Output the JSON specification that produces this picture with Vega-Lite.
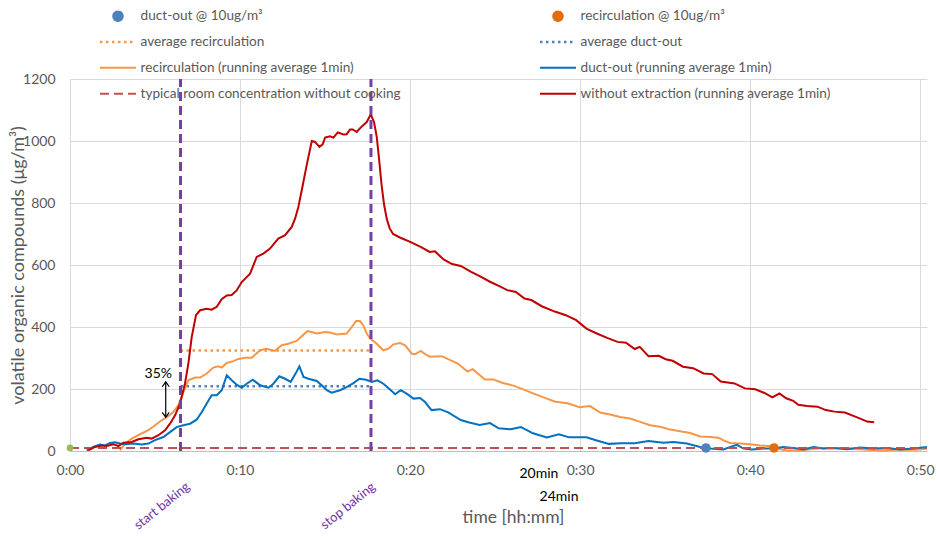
{
  "$schema": "https://vega.github.io/schema/vega-lite/v6.json",
  "width": 857,
  "height": 372,
  "autosize": {"type": "none"},
  "padding": {"left": 70, "top": 79, "right": 10, "bottom": 85},
  "background": "white",
  "config": {"view": {"stroke": null}, "font": "Lato"},
  "datasets": {
    "curves": [
      {"series": "without extraction (running average 1min)", "t": 1.08, "v": 2},
      {"series": "without extraction (running average 1min)", "t": 1.47, "v": 13},
      {"series": "without extraction (running average 1min)", "t": 1.86, "v": 18},
      {"series": "without extraction (running average 1min)", "t": 2.16, "v": 16},
      {"series": "without extraction (running average 1min)", "t": 2.55, "v": 22},
      {"series": "without extraction (running average 1min)", "t": 2.84, "v": 16},
      {"series": "without extraction (running average 1min)", "t": 3.14, "v": 27},
      {"series": "without extraction (running average 1min)", "t": 3.63, "v": 29},
      {"series": "without extraction (running average 1min)", "t": 4.02, "v": 38},
      {"series": "without extraction (running average 1min)", "t": 4.51, "v": 43},
      {"series": "without extraction (running average 1min)", "t": 4.8, "v": 40},
      {"series": "without extraction (running average 1min)", "t": 5.2, "v": 51},
      {"series": "without extraction (running average 1min)", "t": 5.59, "v": 67},
      {"series": "without extraction (running average 1min)", "t": 5.88, "v": 88},
      {"series": "without extraction (running average 1min)", "t": 6.18, "v": 115},
      {"series": "without extraction (running average 1min)", "t": 6.47, "v": 153},
      {"series": "without extraction (running average 1min)", "t": 6.76, "v": 217},
      {"series": "without extraction (running average 1min)", "t": 6.96, "v": 282},
      {"series": "without extraction (running average 1min)", "t": 7.16, "v": 368},
      {"series": "without extraction (running average 1min)", "t": 7.41, "v": 438},
      {"series": "without extraction (running average 1min)", "t": 7.65, "v": 454},
      {"series": "without extraction (running average 1min)", "t": 8.04, "v": 459},
      {"series": "without extraction (running average 1min)", "t": 8.33, "v": 456},
      {"series": "without extraction (running average 1min)", "t": 8.63, "v": 465},
      {"series": "without extraction (running average 1min)", "t": 8.92, "v": 490},
      {"series": "without extraction (running average 1min)", "t": 9.22, "v": 502},
      {"series": "without extraction (running average 1min)", "t": 9.51, "v": 503},
      {"series": "without extraction (running average 1min)", "t": 9.8, "v": 518},
      {"series": "without extraction (running average 1min)", "t": 10.1, "v": 545},
      {"series": "without extraction (running average 1min)", "t": 10.59, "v": 572},
      {"series": "without extraction (running average 1min)", "t": 10.98, "v": 626},
      {"series": "without extraction (running average 1min)", "t": 11.37, "v": 637},
      {"series": "without extraction (running average 1min)", "t": 11.76, "v": 653},
      {"series": "without extraction (running average 1min)", "t": 12.25, "v": 685},
      {"series": "without extraction (running average 1min)", "t": 12.65, "v": 696},
      {"series": "without extraction (running average 1min)", "t": 13.04, "v": 723},
      {"series": "without extraction (running average 1min)", "t": 13.24, "v": 750},
      {"series": "without extraction (running average 1min)", "t": 13.43, "v": 787},
      {"series": "without extraction (running average 1min)", "t": 13.63, "v": 841},
      {"series": "without extraction (running average 1min)", "t": 13.92, "v": 922},
      {"series": "without extraction (running average 1min)", "t": 14.22, "v": 1000},
      {"series": "without extraction (running average 1min)", "t": 14.41, "v": 997},
      {"series": "without extraction (running average 1min)", "t": 14.67, "v": 981},
      {"series": "without extraction (running average 1min)", "t": 14.86, "v": 989},
      {"series": "without extraction (running average 1min)", "t": 15.0, "v": 1011},
      {"series": "without extraction (running average 1min)", "t": 15.29, "v": 1015},
      {"series": "without extraction (running average 1min)", "t": 15.49, "v": 1011},
      {"series": "without extraction (running average 1min)", "t": 15.75, "v": 1028},
      {"series": "without extraction (running average 1min)", "t": 16.08, "v": 1021},
      {"series": "without extraction (running average 1min)", "t": 16.27, "v": 1022},
      {"series": "without extraction (running average 1min)", "t": 16.47, "v": 1037},
      {"series": "without extraction (running average 1min)", "t": 16.63, "v": 1037},
      {"series": "without extraction (running average 1min)", "t": 16.86, "v": 1029},
      {"series": "without extraction (running average 1min)", "t": 17.16, "v": 1047},
      {"series": "without extraction (running average 1min)", "t": 17.45, "v": 1061},
      {"series": "without extraction (running average 1min)", "t": 17.69, "v": 1086},
      {"series": "without extraction (running average 1min)", "t": 17.88, "v": 1061},
      {"series": "without extraction (running average 1min)", "t": 18.04, "v": 1013},
      {"series": "without extraction (running average 1min)", "t": 18.18, "v": 940},
      {"series": "without extraction (running average 1min)", "t": 18.32, "v": 860},
      {"series": "without extraction (running average 1min)", "t": 18.47, "v": 795},
      {"series": "without extraction (running average 1min)", "t": 18.63, "v": 748},
      {"series": "without extraction (running average 1min)", "t": 18.8, "v": 718},
      {"series": "without extraction (running average 1min)", "t": 19.0, "v": 700},
      {"series": "without extraction (running average 1min)", "t": 19.43, "v": 688},
      {"series": "without extraction (running average 1min)", "t": 20.04, "v": 674},
      {"series": "without extraction (running average 1min)", "t": 20.65, "v": 658},
      {"series": "without extraction (running average 1min)", "t": 21.15, "v": 642},
      {"series": "without extraction (running average 1min)", "t": 21.46, "v": 644},
      {"series": "without extraction (running average 1min)", "t": 21.97, "v": 618},
      {"series": "without extraction (running average 1min)", "t": 22.47, "v": 603},
      {"series": "without extraction (running average 1min)", "t": 22.98, "v": 597},
      {"series": "without extraction (running average 1min)", "t": 23.59, "v": 578},
      {"series": "without extraction (running average 1min)", "t": 24.09, "v": 564},
      {"series": "without extraction (running average 1min)", "t": 24.7, "v": 546},
      {"series": "without extraction (running average 1min)", "t": 25.31, "v": 530},
      {"series": "without extraction (running average 1min)", "t": 25.71, "v": 519},
      {"series": "without extraction (running average 1min)", "t": 26.22, "v": 513},
      {"series": "without extraction (running average 1min)", "t": 26.73, "v": 492},
      {"series": "without extraction (running average 1min)", "t": 27.13, "v": 487},
      {"series": "without extraction (running average 1min)", "t": 27.74, "v": 467},
      {"series": "without extraction (running average 1min)", "t": 28.55, "v": 449},
      {"series": "without extraction (running average 1min)", "t": 29.16, "v": 438},
      {"series": "without extraction (running average 1min)", "t": 29.77, "v": 422},
      {"series": "without extraction (running average 1min)", "t": 30.37, "v": 395},
      {"series": "without extraction (running average 1min)", "t": 30.98, "v": 379},
      {"series": "without extraction (running average 1min)", "t": 31.59, "v": 365},
      {"series": "without extraction (running average 1min)", "t": 32.2, "v": 352},
      {"series": "without extraction (running average 1min)", "t": 32.7, "v": 349},
      {"series": "without extraction (running average 1min)", "t": 33.21, "v": 329},
      {"series": "without extraction (running average 1min)", "t": 33.51, "v": 336},
      {"series": "without extraction (running average 1min)", "t": 34.02, "v": 306},
      {"series": "without extraction (running average 1min)", "t": 34.63, "v": 307},
      {"series": "without extraction (running average 1min)", "t": 35.03, "v": 296},
      {"series": "without extraction (running average 1min)", "t": 35.44, "v": 291},
      {"series": "without extraction (running average 1min)", "t": 36.05, "v": 272},
      {"series": "without extraction (running average 1min)", "t": 36.65, "v": 267},
      {"series": "without extraction (running average 1min)", "t": 37.26, "v": 250},
      {"series": "without extraction (running average 1min)", "t": 37.77, "v": 248},
      {"series": "without extraction (running average 1min)", "t": 38.27, "v": 224},
      {"series": "without extraction (running average 1min)", "t": 39.08, "v": 218},
      {"series": "without extraction (running average 1min)", "t": 39.69, "v": 202},
      {"series": "without extraction (running average 1min)", "t": 40.3, "v": 199},
      {"series": "without extraction (running average 1min)", "t": 40.81, "v": 188},
      {"series": "without extraction (running average 1min)", "t": 41.31, "v": 173},
      {"series": "without extraction (running average 1min)", "t": 41.72, "v": 186},
      {"series": "without extraction (running average 1min)", "t": 42.12, "v": 170},
      {"series": "without extraction (running average 1min)", "t": 42.53, "v": 162},
      {"series": "without extraction (running average 1min)", "t": 42.83, "v": 149},
      {"series": "without extraction (running average 1min)", "t": 43.34, "v": 145},
      {"series": "without extraction (running average 1min)", "t": 43.95, "v": 143},
      {"series": "without extraction (running average 1min)", "t": 44.45, "v": 132},
      {"series": "without extraction (running average 1min)", "t": 44.96, "v": 127},
      {"series": "without extraction (running average 1min)", "t": 45.57, "v": 124},
      {"series": "without extraction (running average 1min)", "t": 46.18, "v": 111},
      {"series": "without extraction (running average 1min)", "t": 46.58, "v": 102},
      {"series": "without extraction (running average 1min)", "t": 46.88, "v": 95},
      {"series": "without extraction (running average 1min)", "t": 47.29, "v": 93},

      {"series": "recirculation (running average 1min)", "t": 2.94, "v": 2},
      {"series": "recirculation (running average 1min)", "t": 3.24, "v": 24},
      {"series": "recirculation (running average 1min)", "t": 3.63, "v": 40},
      {"series": "recirculation (running average 1min)", "t": 4.12, "v": 54},
      {"series": "recirculation (running average 1min)", "t": 4.61, "v": 67},
      {"series": "recirculation (running average 1min)", "t": 5.0, "v": 83},
      {"series": "recirculation (running average 1min)", "t": 5.39, "v": 99},
      {"series": "recirculation (running average 1min)", "t": 5.78, "v": 112},
      {"series": "recirculation (running average 1min)", "t": 6.08, "v": 126},
      {"series": "recirculation (running average 1min)", "t": 6.37, "v": 147},
      {"series": "recirculation (running average 1min)", "t": 6.67, "v": 190},
      {"series": "recirculation (running average 1min)", "t": 6.96, "v": 228},
      {"series": "recirculation (running average 1min)", "t": 7.35, "v": 237},
      {"series": "recirculation (running average 1min)", "t": 7.65, "v": 237},
      {"series": "recirculation (running average 1min)", "t": 8.04, "v": 250},
      {"series": "recirculation (running average 1min)", "t": 8.43, "v": 269},
      {"series": "recirculation (running average 1min)", "t": 8.72, "v": 273},
      {"series": "recirculation (running average 1min)", "t": 8.92, "v": 269},
      {"series": "recirculation (running average 1min)", "t": 9.22, "v": 284},
      {"series": "recirculation (running average 1min)", "t": 9.61, "v": 290},
      {"series": "recirculation (running average 1min)", "t": 9.9, "v": 297},
      {"series": "recirculation (running average 1min)", "t": 10.29, "v": 301},
      {"series": "recirculation (running average 1min)", "t": 10.69, "v": 301},
      {"series": "recirculation (running average 1min)", "t": 11.18, "v": 325},
      {"series": "recirculation (running average 1min)", "t": 11.57, "v": 330},
      {"series": "recirculation (running average 1min)", "t": 12.06, "v": 323},
      {"series": "recirculation (running average 1min)", "t": 12.45, "v": 341},
      {"series": "recirculation (running average 1min)", "t": 12.84, "v": 346},
      {"series": "recirculation (running average 1min)", "t": 13.33, "v": 355},
      {"series": "recirculation (running average 1min)", "t": 13.63, "v": 370},
      {"series": "recirculation (running average 1min)", "t": 13.96, "v": 387},
      {"series": "recirculation (running average 1min)", "t": 14.2, "v": 384},
      {"series": "recirculation (running average 1min)", "t": 14.51, "v": 379},
      {"series": "recirculation (running average 1min)", "t": 15.0, "v": 384},
      {"series": "recirculation (running average 1min)", "t": 15.29, "v": 382},
      {"series": "recirculation (running average 1min)", "t": 15.69, "v": 376},
      {"series": "recirculation (running average 1min)", "t": 16.27, "v": 379},
      {"series": "recirculation (running average 1min)", "t": 16.57, "v": 400},
      {"series": "recirculation (running average 1min)", "t": 16.82, "v": 419},
      {"series": "recirculation (running average 1min)", "t": 17.06, "v": 419},
      {"series": "recirculation (running average 1min)", "t": 17.25, "v": 405},
      {"series": "recirculation (running average 1min)", "t": 17.45, "v": 379},
      {"series": "recirculation (running average 1min)", "t": 17.65, "v": 363},
      {"series": "recirculation (running average 1min)", "t": 18.04, "v": 346},
      {"series": "recirculation (running average 1min)", "t": 18.43, "v": 325},
      {"series": "recirculation (running average 1min)", "t": 18.72, "v": 330},
      {"series": "recirculation (running average 1min)", "t": 19.02, "v": 344},
      {"series": "recirculation (running average 1min)", "t": 19.41, "v": 348},
      {"series": "recirculation (running average 1min)", "t": 19.71, "v": 341},
      {"series": "recirculation (running average 1min)", "t": 20.1, "v": 314},
      {"series": "recirculation (running average 1min)", "t": 20.29, "v": 312},
      {"series": "recirculation (running average 1min)", "t": 20.63, "v": 323},
      {"series": "recirculation (running average 1min)", "t": 20.98, "v": 309},
      {"series": "recirculation (running average 1min)", "t": 21.18, "v": 304},
      {"series": "recirculation (running average 1min)", "t": 21.86, "v": 306},
      {"series": "recirculation (running average 1min)", "t": 22.78, "v": 283},
      {"series": "recirculation (running average 1min)", "t": 23.38, "v": 256},
      {"series": "recirculation (running average 1min)", "t": 23.69, "v": 264},
      {"series": "recirculation (running average 1min)", "t": 24.4, "v": 231},
      {"series": "recirculation (running average 1min)", "t": 24.9, "v": 231},
      {"series": "recirculation (running average 1min)", "t": 25.41, "v": 220},
      {"series": "recirculation (running average 1min)", "t": 26.12, "v": 210},
      {"series": "recirculation (running average 1min)", "t": 26.73, "v": 197},
      {"series": "recirculation (running average 1min)", "t": 27.23, "v": 186},
      {"series": "recirculation (running average 1min)", "t": 27.84, "v": 173},
      {"series": "recirculation (running average 1min)", "t": 28.55, "v": 159},
      {"series": "recirculation (running average 1min)", "t": 29.26, "v": 154},
      {"series": "recirculation (running average 1min)", "t": 29.97, "v": 141},
      {"series": "recirculation (running average 1min)", "t": 30.58, "v": 145},
      {"series": "recirculation (running average 1min)", "t": 31.18, "v": 124},
      {"series": "recirculation (running average 1min)", "t": 31.76, "v": 118},
      {"series": "recirculation (running average 1min)", "t": 32.35, "v": 110},
      {"series": "recirculation (running average 1min)", "t": 32.94, "v": 105},
      {"series": "recirculation (running average 1min)", "t": 33.53, "v": 94},
      {"series": "recirculation (running average 1min)", "t": 34.12, "v": 83},
      {"series": "recirculation (running average 1min)", "t": 34.71, "v": 78},
      {"series": "recirculation (running average 1min)", "t": 35.29, "v": 69},
      {"series": "recirculation (running average 1min)", "t": 35.88, "v": 64},
      {"series": "recirculation (running average 1min)", "t": 36.47, "v": 58},
      {"series": "recirculation (running average 1min)", "t": 37.06, "v": 47},
      {"series": "recirculation (running average 1min)", "t": 37.65, "v": 45},
      {"series": "recirculation (running average 1min)", "t": 38.14, "v": 43},
      {"series": "recirculation (running average 1min)", "t": 38.43, "v": 34},
      {"series": "recirculation (running average 1min)", "t": 38.82, "v": 26},
      {"series": "recirculation (running average 1min)", "t": 39.41, "v": 24},
      {"series": "recirculation (running average 1min)", "t": 40.0, "v": 22},
      {"series": "recirculation (running average 1min)", "t": 40.59, "v": 18},
      {"series": "recirculation (running average 1min)", "t": 41.18, "v": 15},
      {"series": "recirculation (running average 1min)", "t": 41.57, "v": 8},
      {"series": "recirculation (running average 1min)", "t": 42.16, "v": 2},
      {"series": "recirculation (running average 1min)", "t": 42.94, "v": 2},
      {"series": "recirculation (running average 1min)", "t": 43.92, "v": 8},
      {"series": "recirculation (running average 1min)", "t": 44.9, "v": 10},
      {"series": "recirculation (running average 1min)", "t": 45.88, "v": 8},
      {"series": "recirculation (running average 1min)", "t": 46.86, "v": 4},
      {"series": "recirculation (running average 1min)", "t": 47.84, "v": 2},
      {"series": "recirculation (running average 1min)", "t": 48.82, "v": 5},
      {"series": "recirculation (running average 1min)", "t": 49.8, "v": 4},
      {"series": "recirculation (running average 1min)", "t": 50.4, "v": 8},

      {"series": "duct-out (running average 1min)", "t": 0.98, "v": 2},
      {"series": "duct-out (running average 1min)", "t": 1.37, "v": 13},
      {"series": "duct-out (running average 1min)", "t": 1.76, "v": 21},
      {"series": "duct-out (running average 1min)", "t": 2.06, "v": 18},
      {"series": "duct-out (running average 1min)", "t": 2.35, "v": 26},
      {"series": "duct-out (running average 1min)", "t": 2.65, "v": 28},
      {"series": "duct-out (running average 1min)", "t": 2.94, "v": 24},
      {"series": "duct-out (running average 1min)", "t": 3.24, "v": 22},
      {"series": "duct-out (running average 1min)", "t": 3.73, "v": 24},
      {"series": "duct-out (running average 1min)", "t": 4.22, "v": 21},
      {"series": "duct-out (running average 1min)", "t": 4.61, "v": 24},
      {"series": "duct-out (running average 1min)", "t": 5.0, "v": 35},
      {"series": "duct-out (running average 1min)", "t": 5.49, "v": 45},
      {"series": "duct-out (running average 1min)", "t": 5.88, "v": 61},
      {"series": "duct-out (running average 1min)", "t": 6.27, "v": 77},
      {"series": "duct-out (running average 1min)", "t": 6.67, "v": 83},
      {"series": "duct-out (running average 1min)", "t": 7.06, "v": 88},
      {"series": "duct-out (running average 1min)", "t": 7.45, "v": 101},
      {"series": "duct-out (running average 1min)", "t": 7.75, "v": 126},
      {"series": "duct-out (running average 1min)", "t": 8.04, "v": 153},
      {"series": "duct-out (running average 1min)", "t": 8.33, "v": 180},
      {"series": "duct-out (running average 1min)", "t": 8.63, "v": 180},
      {"series": "duct-out (running average 1min)", "t": 8.92, "v": 196},
      {"series": "duct-out (running average 1min)", "t": 9.22, "v": 244},
      {"series": "duct-out (running average 1min)", "t": 9.51, "v": 228},
      {"series": "duct-out (running average 1min)", "t": 9.8, "v": 214},
      {"series": "duct-out (running average 1min)", "t": 10.1, "v": 204},
      {"series": "duct-out (running average 1min)", "t": 10.39, "v": 217},
      {"series": "duct-out (running average 1min)", "t": 10.75, "v": 230},
      {"series": "duct-out (running average 1min)", "t": 11.18, "v": 212},
      {"series": "duct-out (running average 1min)", "t": 11.67, "v": 204},
      {"series": "duct-out (running average 1min)", "t": 11.96, "v": 217},
      {"series": "duct-out (running average 1min)", "t": 12.31, "v": 241},
      {"series": "duct-out (running average 1min)", "t": 12.65, "v": 233},
      {"series": "duct-out (running average 1min)", "t": 12.98, "v": 223},
      {"series": "duct-out (running average 1min)", "t": 13.29, "v": 252},
      {"series": "duct-out (running average 1min)", "t": 13.49, "v": 273},
      {"series": "duct-out (running average 1min)", "t": 13.73, "v": 239},
      {"series": "duct-out (running average 1min)", "t": 14.02, "v": 233},
      {"series": "duct-out (running average 1min)", "t": 14.51, "v": 226},
      {"series": "duct-out (running average 1min)", "t": 14.8, "v": 212},
      {"series": "duct-out (running average 1min)", "t": 15.1, "v": 196},
      {"series": "duct-out (running average 1min)", "t": 15.39, "v": 188},
      {"series": "duct-out (running average 1min)", "t": 15.88, "v": 196},
      {"series": "duct-out (running average 1min)", "t": 16.27, "v": 206},
      {"series": "duct-out (running average 1min)", "t": 16.67, "v": 219},
      {"series": "duct-out (running average 1min)", "t": 17.02, "v": 233},
      {"series": "duct-out (running average 1min)", "t": 17.41, "v": 230},
      {"series": "duct-out (running average 1min)", "t": 17.75, "v": 223},
      {"series": "duct-out (running average 1min)", "t": 18.08, "v": 228},
      {"series": "duct-out (running average 1min)", "t": 18.43, "v": 217},
      {"series": "duct-out (running average 1min)", "t": 18.82, "v": 198},
      {"series": "duct-out (running average 1min)", "t": 19.12, "v": 183},
      {"series": "duct-out (running average 1min)", "t": 19.45, "v": 196},
      {"series": "duct-out (running average 1min)", "t": 19.8, "v": 185},
      {"series": "duct-out (running average 1min)", "t": 20.2, "v": 169},
      {"series": "duct-out (running average 1min)", "t": 20.59, "v": 171},
      {"series": "duct-out (running average 1min)", "t": 20.88, "v": 158},
      {"series": "duct-out (running average 1min)", "t": 21.26, "v": 132},
      {"series": "duct-out (running average 1min)", "t": 21.76, "v": 135},
      {"series": "duct-out (running average 1min)", "t": 22.27, "v": 124},
      {"series": "duct-out (running average 1min)", "t": 22.98, "v": 100},
      {"series": "duct-out (running average 1min)", "t": 23.48, "v": 92},
      {"series": "duct-out (running average 1min)", "t": 24.09, "v": 84},
      {"series": "duct-out (running average 1min)", "t": 24.7, "v": 90},
      {"series": "duct-out (running average 1min)", "t": 25.21, "v": 73},
      {"series": "duct-out (running average 1min)", "t": 25.92, "v": 70},
      {"series": "duct-out (running average 1min)", "t": 26.52, "v": 77},
      {"series": "duct-out (running average 1min)", "t": 27.23, "v": 57},
      {"series": "duct-out (running average 1min)", "t": 28.04, "v": 44},
      {"series": "duct-out (running average 1min)", "t": 28.75, "v": 54},
      {"series": "duct-out (running average 1min)", "t": 29.36, "v": 44},
      {"series": "duct-out (running average 1min)", "t": 30.37, "v": 44},
      {"series": "duct-out (running average 1min)", "t": 30.98, "v": 34},
      {"series": "duct-out (running average 1min)", "t": 31.69, "v": 23},
      {"series": "duct-out (running average 1min)", "t": 32.4, "v": 25},
      {"series": "duct-out (running average 1min)", "t": 33.21, "v": 25},
      {"series": "duct-out (running average 1min)", "t": 34.02, "v": 32},
      {"series": "duct-out (running average 1min)", "t": 34.9, "v": 27},
      {"series": "duct-out (running average 1min)", "t": 35.49, "v": 29},
      {"series": "duct-out (running average 1min)", "t": 36.27, "v": 24},
      {"series": "duct-out (running average 1min)", "t": 37.06, "v": 13},
      {"series": "duct-out (running average 1min)", "t": 37.65, "v": 8},
      {"series": "duct-out (running average 1min)", "t": 38.43, "v": 5},
      {"series": "duct-out (running average 1min)", "t": 38.92, "v": 15},
      {"series": "duct-out (running average 1min)", "t": 39.22, "v": 20},
      {"series": "duct-out (running average 1min)", "t": 39.61, "v": 8},
      {"series": "duct-out (running average 1min)", "t": 40.1, "v": 5},
      {"series": "duct-out (running average 1min)", "t": 40.78, "v": 8},
      {"series": "duct-out (running average 1min)", "t": 41.37, "v": 8},
      {"series": "duct-out (running average 1min)", "t": 41.96, "v": 13},
      {"series": "duct-out (running average 1min)", "t": 42.55, "v": 10},
      {"series": "duct-out (running average 1min)", "t": 43.14, "v": 5},
      {"series": "duct-out (running average 1min)", "t": 43.73, "v": 13},
      {"series": "duct-out (running average 1min)", "t": 44.31, "v": 8},
      {"series": "duct-out (running average 1min)", "t": 44.9, "v": 10},
      {"series": "duct-out (running average 1min)", "t": 45.69, "v": 6},
      {"series": "duct-out (running average 1min)", "t": 46.47, "v": 11},
      {"series": "duct-out (running average 1min)", "t": 47.25, "v": 8},
      {"series": "duct-out (running average 1min)", "t": 48.04, "v": 10},
      {"series": "duct-out (running average 1min)", "t": 48.82, "v": 5},
      {"series": "duct-out (running average 1min)", "t": 49.61, "v": 8},
      {"series": "duct-out (running average 1min)", "t": 50.4, "v": 13}
    ],
    "averages": [
      {"series": "average recirculation", "t": 6.5, "v": 324},
      {"series": "average recirculation", "t": 17.7, "v": 324},
      {"series": "average duct-out", "t": 6.5, "v": 209},
      {"series": "average duct-out", "t": 17.7, "v": 209}
    ],
    "typical": [
      {"series": "typical room concentration without cooking", "t": 0, "v": 10},
      {"series": "typical room concentration without cooking", "t": 50.4, "v": 10}
    ],
    "markers": [
      {"series": "duct-out @ 10ug/m³", "t": 37.4, "v": 10},
      {"series": "recirculation @ 10ug/m³", "t": 41.4, "v": 10}
    ]
  },
  "layer": [
    {
      "data": {"name": "averages"},
      "mark": {"type": "line", "strokeWidth": 2.5, "strokeDash": [2.5, 3.5], "strokeCap": "butt"},
      "encoding": {
        "x": {
          "field": "t", "type": "quantitative",
          "scale": {"domain": [0, 50.4], "nice": false, "zero": false},
          "axis": {
            "values": [0, 10, 20, 30, 40, 50],
            "labelExpr": "'0:' + (datum.value < 10 ? '0' : '') + datum.value",
            "grid": true, "gridColor": "#D9D9D9", "gridWidth": 1,
            "domain": true, "domainColor": "#BFBFBF", "domainWidth": 1,
            "ticks": false,
            "labelFont": "Lato", "labelFontSize": 14, "labelColor": "#595959", "labelPadding": 12,
            "labelFlush": false, "labelOverlap": false,
            "title": "time [hh:mm]", "titleFont": "Lato", "titleFontSize": 17.5, "titleFontWeight": "normal",
            "titleColor": "#595959", "titleX": 443, "titleY": 57, "titleBaseline": "top", "titleAlign": "center"
          }
        },
        "y": {
          "field": "v", "type": "quantitative",
          "scale": {"domain": [0, 1200], "nice": false},
          "axis": {
            "values": [0, 200, 400, 600, 800, 1000, 1200],
            "format": "d",
            "grid": true, "gridColor": "#D9D9D9", "gridWidth": 1,
            "domain": false, "ticks": false,
            "labelFont": "Lato", "labelFontSize": 14, "labelColor": "#595959", "labelPadding": 15,
            "title": "volatile organic compounds (μg/m³)", "titleFont": "Lato", "titleFontSize": 18,
            "titleFontWeight": "normal", "titleColor": "#595959", "titleX": -43, "titleBaseline": "bottom"
          }
        },
        "color": {
          "field": "series", "type": "nominal",
          "scale": {
            "domain": ["duct-out @ 10ug/m³", "recirculation @ 10ug/m³", "average recirculation", "average duct-out", "recirculation (running average 1min)", "duct-out (running average 1min)", "typical room concentration without cooking", "without extraction (running average 1min)"],
            "range": ["#4F81BD", "#E46C0A", "#F79646", "#4F81BD", "#F79646", "#0070C0", "#C0504D", "#C00000"]
          },
          "legend": {
            "orient": "none", "legendX": 30, "legendY": -69, "columns": 2, "title": null,
            "padding": 0, "offset": 0,
            "labelFont": "Lato", "labelFontSize": 13.6, "labelColor": "#595959", "labelLimit": 400, "labelOffset": 27,
            "symbolSize": 1300, "clipHeight": 12, "rowPadding": 11.9, "columnPadding": 139,
            "values": ["duct-out @ 10ug/m³", "average recirculation", "recirculation (running average 1min)", "typical room concentration without cooking", "recirculation @ 10ug/m³", "average duct-out", "duct-out (running average 1min)", "without extraction (running average 1min)"],
            "encode": {
              "symbols": {
                "update": {
                  "x": {"value": 18},
                  "shape": {"signal": "indexof(['duct-out @ 10ug/m³','recirculation @ 10ug/m³'], datum.value) >= 0 ? 'circle' : 'stroke'"},
                  "size": {"signal": "indexof(['duct-out @ 10ug/m³','recirculation @ 10ug/m³'], datum.value) >= 0 ? 90 : 1300"},
                  "fill": {"signal": "indexof(['duct-out @ 10ug/m³','recirculation @ 10ug/m³'], datum.value) >= 0 ? scale('color', datum.value) : 'transparent'"},
                  "stroke": {"signal": "indexof(['duct-out @ 10ug/m³','recirculation @ 10ug/m³'], datum.value) >= 0 ? 'transparent' : scale('color', datum.value)"},
                  "strokeDash": {"signal": "indexof(['average recirculation','average duct-out'], datum.value) >= 0 ? [2.5,3.5] : (datum.value == 'typical room concentration without cooking' ? [9,5] : [1,0])"},
                  "strokeWidth": {"signal": "indexof(['average recirculation','average duct-out'], datum.value) >= 0 ? 2.5 : 2"},
                  "opacity": {"value": 1}
                }
              }
            }
          }
        }
      }
    },
    {
      "data": {"name": "curves"},
      "transform": [{"filter": "datum.series != 'without extraction (running average 1min)'"}],
      "mark": {"type": "line", "strokeWidth": 2},
      "encoding": {
        "x": {"field": "t", "type": "quantitative"},
        "y": {"field": "v", "type": "quantitative"},
        "color": {"field": "series", "type": "nominal"}
      }
    },
    {
      "data": {"name": "typical"},
      "mark": {"type": "line", "strokeWidth": 2, "strokeDash": [9, 5]},
      "encoding": {
        "x": {"field": "t", "type": "quantitative"},
        "y": {"field": "v", "type": "quantitative"},
        "color": {"field": "series", "type": "nominal"}
      }
    },
    {
      "data": {"name": "curves"},
      "transform": [{"filter": "datum.series == 'without extraction (running average 1min)'"}],
      "mark": {"type": "line", "strokeWidth": 2},
      "encoding": {
        "x": {"field": "t", "type": "quantitative"},
        "y": {"field": "v", "type": "quantitative"},
        "color": {"field": "series", "type": "nominal"}
      }
    },
    {
      "data": {"values": [{"t": 6.5}, {"t": 17.7}]},
      "mark": {"type": "rule", "color": "#7440A8", "strokeWidth": 3, "strokeDash": [9, 5]},
      "encoding": {
        "x": {"field": "t", "type": "quantitative"},
        "y": {"datum": 0, "type": "quantitative"},
        "y2": {"datum": 1200}
      }
    },
    {
      "data": {"name": "markers"},
      "mark": {"type": "point", "filled": true, "size": 90, "opacity": 1, "shape": "circle"},
      "encoding": {
        "x": {"field": "t", "type": "quantitative"},
        "y": {"field": "v", "type": "quantitative"},
        "color": {"field": "series", "type": "nominal"}
      }
    },
    {
      "data": {"values": [{"t": 0, "v": 10}]},
      "mark": {"type": "point", "filled": true, "size": 45, "opacity": 1, "shape": "circle", "color": "#9BBB59"},
      "encoding": {
        "x": {"field": "t", "type": "quantitative"},
        "y": {"field": "v", "type": "quantitative"}
      }
    },
    {
      "data": {"values": [{"t": 5.63, "v": 109, "v2": 223}]},
      "mark": {"type": "rule", "color": "black", "strokeWidth": 1.2},
      "encoding": {
        "x": {"field": "t", "type": "quantitative"},
        "y": {"field": "v", "type": "quantitative"},
        "y2": {"field": "v2"}
      }
    },
    {
      "data": {"values": [{"t": 5.63, "v": 223}]},
      "mark": {"type": "point", "shape": "M-1,1.4L0,0L1,1.4", "filled": false, "stroke": "black", "strokeWidth": 1.2, "size": 49, "opacity": 1},
      "encoding": {
        "x": {"field": "t", "type": "quantitative"},
        "y": {"field": "v", "type": "quantitative"}
      }
    },
    {
      "data": {"values": [{"t": 5.63, "v": 109}]},
      "mark": {"type": "point", "shape": "M-1,-1.4L0,0L1,-1.4", "filled": false, "stroke": "black", "strokeWidth": 1.2, "size": 49, "opacity": 1},
      "encoding": {
        "x": {"field": "t", "type": "quantitative"},
        "y": {"field": "v", "type": "quantitative"}
      }
    },
    {
      "data": {"values": [
        {"label": "35%", "t": 5.19, "v": 248},
        {"label": "20min", "t": 27.58, "v": -72.6},
        {"label": "24min", "t": 28.76, "v": -146.8}
      ]},
      "mark": {"type": "text", "font": "Lato", "fontSize": 14, "color": "black", "align": "center", "baseline": "middle"},
      "encoding": {
        "x": {"field": "t", "type": "quantitative"},
        "y": {"field": "v", "type": "quantitative"},
        "text": {"field": "label", "type": "nominal"}
      }
    },
    {
      "data": {"values": [
        {"label": "start baking", "t": 5.41, "v": -177},
        {"label": "stop baking", "t": 16.35, "v": -177}
      ]},
      "mark": {"type": "text", "font": "Lato", "fontSize": 13, "color": "#7030A0", "align": "center", "baseline": "middle", "angle": 321},
      "encoding": {
        "x": {"field": "t", "type": "quantitative"},
        "y": {"field": "v", "type": "quantitative"},
        "text": {"field": "label", "type": "nominal"}
      }
    }
  ]
}
